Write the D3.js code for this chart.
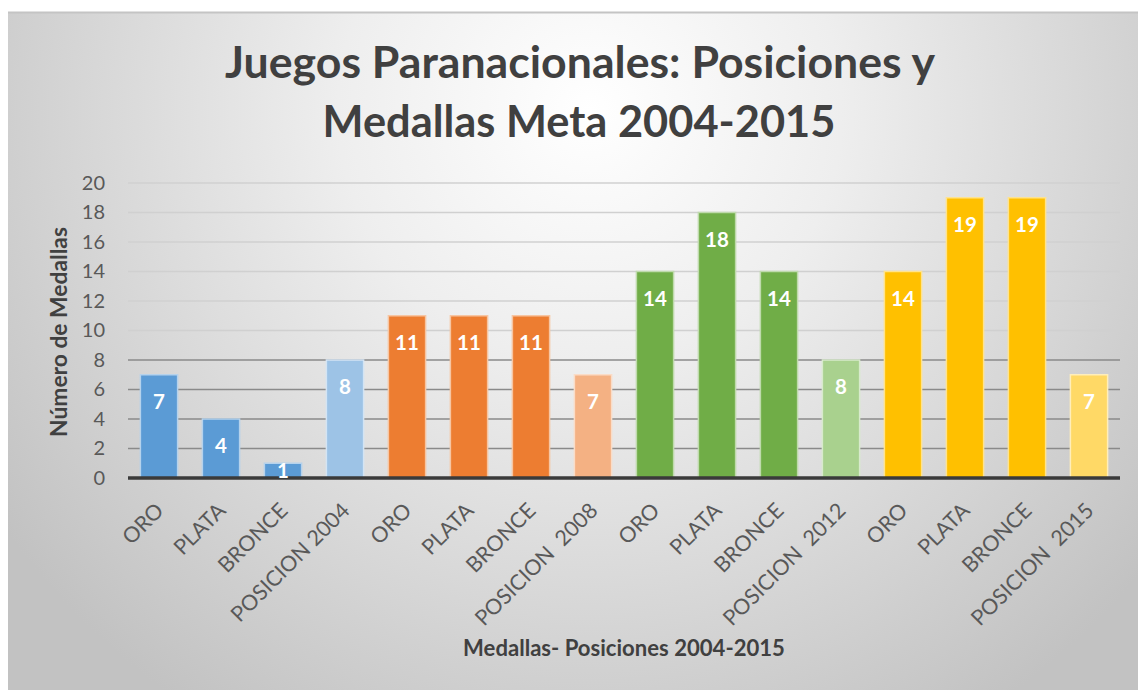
<!DOCTYPE html>
<html>
<head>
<meta charset="utf-8">
<script src="https://cdn.jsdelivr.net/npm/d3@7"></script>
<style>
  html, body { margin: 0; padding: 0; background: #ffffff; }
  svg { display: block; }
  text { font-family: Lato, "Open Sans", sans-serif; }
</style>
</head>
<body>
<svg id="chart" width="1138" height="690"></svg>
<script>
// ---- data ----
const categories = ["ORO", "PLATA", "BRONCE", "POSICION 2004",
                    "ORO", "PLATA", "BRONCE", "POSICION  2008",
                    "ORO", "PLATA", "BRONCE", "POSICION  2012",
                    "ORO", "PLATA", "BRONCE", "POSICION  2015"];
const values = [7, 4, 1, 8, 11, 11, 11, 7, 14, 18, 14, 8, 14, 19, 19, 7];
const yTicks = [0, 2, 4, 6, 8, 10, 12, 14, 16, 18, 20];
const titleLines = ["Juegos Paranacionales: Posiciones y", "Medallas Meta 2004-2015"];
const yTitle = "Número de Medallas";
const xTitle = "Medallas- Posiciones 2004-2015";

// ---- styles ----
const palette = ["#5B9BD5", "#5B9BD5", "#5B9BD5", "#9DC3E6",
                 "#ED7D31", "#ED7D31", "#ED7D31", "#F4B183",
                 "#70AD47", "#70AD47", "#70AD47", "#A9D18E",
                 "#FFC000", "#FFC000", "#FFC000", "#FFD966"];

const svg = d3.select("#chart");

// background
const defs = svg.append("defs");
const grad = defs.append("radialGradient").attr("id", "bg")
  .attr("gradientUnits", "userSpaceOnUse")
  .attr("cx", 590).attr("cy", 110).attr("r", 720);
grad.append("stop").attr("offset", "0%").attr("stop-color", "#ffffff");
grad.append("stop").attr("offset", "35%").attr("stop-color", "#eeeeee");
grad.append("stop").attr("offset", "100%").attr("stop-color", "#c2c2c2");

svg.append("rect").attr("x", 8).attr("y", 12).attr("width", 1130).attr("height", 678)
  .attr("fill", "url(#bg)");
svg.append("line").attr("x1", 8).attr("x2", 1138).attr("y1", 12.5).attr("y2", 12.5)
  .attr("stroke", "#c4c4c4").attr("stroke-width", 2);

// scales
const x = d3.scaleBand().domain(d3.range(categories.length))
  .range([128, 1120]).paddingInner(0.4).paddingOuter(0.2);
const y = d3.scaleLinear().domain([0, 20]).range([478, 183]);

// gridlines
svg.append("g").selectAll("line").data(yTicks.filter(t => t > 0)).join("line")
  .attr("x1", 128).attr("x2", 1120)
  .attr("y1", d => y(d)).attr("y2", d => y(d))
  .attr("stroke", d => d <= 8 ? "#8a8a8a" : "#d0d0d0")
  .attr("stroke-width", 1.6);

// y axis
const yAxis = svg.append("g").attr("transform", "translate(128,0)")
  .call(d3.axisLeft(y).tickValues(yTicks).tickSize(0).tickPadding(23));
yAxis.select(".domain").remove();
yAxis.selectAll("text").attr("font-size", 20).attr("fill", "#595959")
  .style("font-family", "Lato, sans-serif");

// bars
const light = c => d3.interpolateRgb(c, "#ffffff")(0.55);
svg.append("g").selectAll("rect").data(values).join("rect")
  .attr("x", (d, i) => x(i))
  .attr("y", d => y(d))
  .attr("width", x.bandwidth())
  .attr("height", d => y(0) - y(d))
  .attr("fill", (d, i) => palette[i])
  .attr("stroke", (d, i) => light(palette[i]))
  .attr("stroke-width", 1.5);

// x axis
const xAxis = svg.append("g").attr("transform", `translate(0,${y(0)})`)
  .call(d3.axisBottom(x).tickSize(0).tickFormat(i => categories[i]));
xAxis.select(".domain").attr("stroke", "#3a3a3a").attr("stroke-width", 3.5)
  .attr("d", "M128,0H1120");
xAxis.selectAll("text")
  .attr("font-size", 21.5).attr("fill", "#595959")
  .style("font-family", "Lato, sans-serif")
  .style("white-space", "pre")
  .attr("text-anchor", "end")
  .attr("x", 0).attr("y", 0).attr("dy", null)
  .attr("transform", "translate(6,34) rotate(-45)");

// value labels
svg.append("g").selectAll("text").data(values).join("text")
  .attr("x", (d, i) => x(i) + x.bandwidth() / 2)
  .attr("y", d => Math.min(y(d) + 27, (y(d) + y(0)) / 2))
  .attr("dy", "0.36em")
  .attr("text-anchor", "middle")
  .attr("font-size", 20.5).attr("font-weight", "bold").attr("fill", "#ffffff")
  .text(d => d);

// helper to fit text width
function fitText(sel, target) {
  const w = sel.node().getComputedTextLength();
  const fs = parseFloat(sel.attr("font-size"));
  sel.attr("font-size", fs * target / w);
}

// title
const t1 = svg.append("text").attr("x", 580).attr("y", 78)
  .attr("text-anchor", "middle").attr("font-size", 44).attr("font-weight", "bold")
  .attr("fill", "#404040").text(titleLines[0]);
fitText(t1, 710);
const t2 = svg.append("text").attr("x", 579).attr("y", 137)
  .attr("text-anchor", "middle").attr("font-size", 44).attr("font-weight", "bold")
  .attr("fill", "#404040").text(titleLines[1]);
fitText(t2, 513);

// y axis title
const yt = svg.append("text")
  .attr("transform", "translate(67,332) rotate(-90)")
  .attr("text-anchor", "middle").attr("font-size", 20).attr("font-weight", "bold")
  .attr("fill", "#404040").text(yTitle);
fitText(yt, 210);

// x axis title
const xt = svg.append("text").attr("x", 624).attr("y", 656)
  .attr("text-anchor", "middle").attr("font-size", 20).attr("font-weight", "bold")
  .attr("fill", "#404040").text(xTitle);
fitText(xt, 322);
</script>
</body>
</html>
